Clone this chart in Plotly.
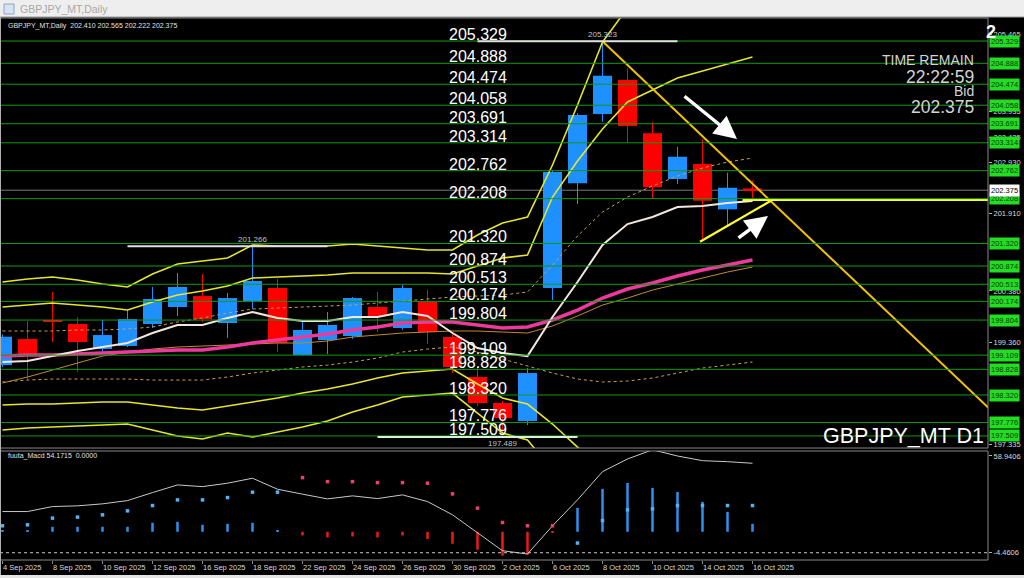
import plotly.graph_objects as go

# ---------------- data ----------------
dates = ["4 Sep 2025", "5 Sep 2025", "8 Sep 2025", "9 Sep 2025", "10 Sep 2025", "11 Sep 2025",
         "12 Sep 2025", "15 Sep 2025", "16 Sep 2025", "17 Sep 2025", "18 Sep 2025", "19 Sep 2025",
         "22 Sep 2025", "23 Sep 2025", "24 Sep 2025", "25 Sep 2025", "26 Sep 2025", "29 Sep 2025",
         "30 Sep 2025", "1 Oct 2025", "2 Oct 2025", "3 Oct 2025", "6 Oct 2025", "7 Oct 2025",
         "8 Oct 2025", "9 Oct 2025", "10 Oct 2025", "13 Oct 2025", "14 Oct 2025", "15 Oct 2025",
         "16 Oct 2025"]

opens = [198.913, 199.428, 199.800, 199.725, 199.230, 199.290, 199.725, 200.062, 200.279, 199.745,
         200.181, 200.438, 199.111, 199.408, 199.488, 200.062, 199.646, 200.161, 199.468, 198.676,
         198.161, 197.804, 200.438, 202.511, 203.883, 204.557, 203.501, 202.596, 202.893, 201.996,
         202.410]
highs = [199.520, 199.784, 200.359, 199.864, 199.805, 200.002, 200.458, 200.735, 200.715, 200.339,
         201.266, 200.616, 199.766, 199.963, 200.260, 200.359, 200.500, 200.398, 199.520, 198.874,
         198.200, 198.854, 202.760, 203.900, 205.323, 204.788, 203.731, 203.236, 203.383, 202.721,
         202.565]
lows = [198.870, 198.616, 199.369, 198.775, 199.171, 199.270, 199.646, 199.884, 199.770, 199.448,
        200.022, 199.171, 199.100, 199.131, 199.430, 199.567, 199.610, 199.329, 198.755, 198.100,
        197.489, 197.725, 200.200, 202.101, 203.731, 203.315, 202.214, 202.497, 201.355, 201.685,
        202.222]
closes = [199.474, 199.131, 199.770, 199.369, 199.507, 199.824, 200.220, 200.458, 199.824, 200.240,
          200.577, 199.349, 199.607, 199.707, 200.240, 199.884, 200.438, 199.567, 198.874, 198.161,
          197.864, 198.755, 202.735, 203.864, 204.642, 203.646, 202.432, 203.038, 202.167, 202.424,
          202.375]

ma_white = [198.973, 198.992, 199.091, 199.190, 199.270, 199.349, 199.547, 199.707, 199.707, 199.846,
            199.963, 199.846, 199.786, 199.786, 199.864, 199.864, 199.963, 199.884, 199.547, 199.250,
            199.151, 199.091, 199.864, 200.557, 201.290, 201.705, 201.844, 202.042, 202.062, 202.121,
            202.161]
ma_pink = [199.091, 199.111, 199.111, 199.131, 199.151, 199.171, 199.190, 199.210, 199.210, 199.270,
           199.349, 199.408, 199.468, 199.527, 199.607, 199.667, 199.746, 199.766, 199.766, 199.707,
           199.646, 199.667, 199.805, 200.002, 200.240, 200.418, 200.537, 200.676, 200.794, 200.894,
           200.993]
ma_tan = [198.557, 198.676, 198.814, 198.953, 199.091, 199.171, 199.230, 199.270, 199.290, 199.309,
          199.329, 199.349, 199.349, 199.389, 199.468, 199.508, 199.547, 199.567, 199.587, 199.587,
          199.567, 199.547, 199.687, 199.884, 200.101, 200.240, 200.398, 200.517, 200.636, 200.755,
          200.854]
env_up = [199.587, 199.587, 199.587, 199.607, 199.607, 199.627, 199.667, 199.766, 199.846, 199.943,
          200.022, 200.042, 200.062, 200.081, 200.101, 200.141, 200.181, 200.220, 200.260, 200.279,
          200.299, 200.359, 200.894, 201.468, 201.943, 202.240, 202.458, 202.656, 202.814, 202.933,
          203.012]
env_dn = [198.577, 198.616, 198.636, 198.636, 198.636, 198.636, 198.616, 198.616, 198.616, 198.676,
          198.755, 198.814, 198.874, 198.913, 198.973, 199.052, 199.171, 199.230, 199.270, 199.171,
          199.032, 198.893, 198.755, 198.636, 198.577, 198.597, 198.656, 198.755, 198.854, 198.913,
          198.973]
band_up3 = [200.557, 200.616, 200.656, 200.596, 200.517, 200.458, 200.715, 200.913, 200.973, 201.032,
            201.290, 201.270, 201.270, 201.270, 201.309, 201.270, 201.230, 201.191, 201.191, 201.488,
            201.725, 201.844, 202.874, 204.062, 205.309, 205.983, 206.340, 206.540, 206.640, 206.740,
            206.840]
band_up2 = [200.062, 200.101, 200.141, 200.101, 200.062, 200.002, 200.161, 200.299, 200.379, 200.478,
            200.636, 200.656, 200.676, 200.696, 200.735, 200.735, 200.735, 200.735, 200.715, 200.874,
            201.032, 201.091, 202.240, 202.953, 203.587, 204.121, 204.359, 204.596, 204.735, 204.874,
            205.012]
band_dn2 = [198.121, 198.141, 198.141, 198.161, 198.181, 198.181, 198.121, 198.062, 198.022, 198.101,
            198.181, 198.260, 198.359, 198.438, 198.537, 198.656, 198.755, 198.794, 198.834, 198.537,
            198.260, 198.141, 197.745, 197.289, 196.834, 196.537, 196.398, 196.299, 196.240, 196.200,
            196.161]
band_dn3 = [197.626, 197.666, 197.686, 197.706, 197.726, 197.745, 197.626, 197.507, 197.448, 197.567,
            197.488, 197.587, 197.686, 197.804, 197.983, 198.121, 198.280, 198.319, 198.359, 197.963,
            197.567, 197.428, 196.834, 196.141, 195.448, 195.052, 194.854, 194.755, 194.656, 194.616,
            194.557]

level_prices = [205.329, 204.888, 204.474, 204.058, 203.691, 203.314, 202.762, 202.208, 201.320,
                200.874, 200.513, 200.174, 199.804, 199.109, 198.828, 198.320, 197.776, 197.509]
bid_price = 202.375
swing_idx = [24, 10, 20]
swing_prices = [205.323, 201.266, 197.489]
axis_tick_prices = [205.465, 203.935, 203.425, 202.930, 201.910, 200.380, 199.360, 197.335]

down_trend_x = [24, 40]
down_trend_y = [205.323, 197.800]
up_trend_x = [27.9, 30.75]
up_trend_y = [201.355, 202.170]
flat_line_x = [29.6, 45]
flat_line_y = [202.181, 202.181]
arrow_down = (27.22, 204.260, 29.38, 203.389)
arrow_up = (29.38, 201.408, 30.62, 201.864)

macd_line = [22.53, 22.53, 25.80, 26.26, 27.57, 29.72, 34.95, 39.98, 38.87, 41.10, 44.36, 37.17,
             33.91, 30.83, 32.80, 31.03, 33.45, 29.07, 20.38, 8.42, -3.15, -5.31, 13.19, 30.18,
             48.68, 56.98, 63.00, 58.94, 55.87, 55.21, 54.17]
macd_dots = [13.19, 13.84, 18.22, 18.87, 20.38, 22.99, 26.46, 30.18, 30.18, 31.68, 35.21, 35.21,
             44.76, 42.14, 42.14, 41.49, 41.49, 41.10, 34.10, 24.76, 15.34, 13.19, 13.19, 1.88,
             16.65, 23.64, 24.30, 26.46, 26.46, 26.46, 26.46]
macd_hist = [9.92, 10.11, 12.53, 12.53, 12.53, 12.53, 15.15, 15.80, 13.84, 14.49, 15.15, 10.11,
             6.85, 5.54, 6.19, 5.54, 6.85, 4.49, 1.42, -2.50, -6.42, -5.77, 8.61, 24.95, 37.37,
             41.29, 38.02, 35.41, 28.87, 22.34, 14.49]
macd_hist_zero = 9.27
macd_level = -4.4606
macd_max = 58.9406

# ---------------- figure ----------------
W, H = 1024, 578
ML, MR, MT, MB = 0, 36, 18, 18
PW, PH = W - ML - MR, H - MT - MB


def py(y_px):
    return (H - MB - y_px) / PH


def px(x_px):
    return (x_px - ML) / PW


FONT = "Liberation Sans, Arial, sans-serif"
n = len(dates)
xs = list(range(n))

fig = go.Figure()

# candles
BLUE, RED = "#1E90FF", "#FF0000"
for up, col in [(True, BLUE), (False, RED)]:
    idx = [i for i in xs if (closes[i] >= opens[i]) == up]
    wx, wy = [], []
    for i in idx:
        wx += [i, i, None]
        wy += [lows[i], highs[i], None]
    fig.add_trace(go.Scatter(x=wx, y=wy, mode="lines", line=dict(color=col, width=1),
                             xaxis="x", yaxis="y", hoverinfo="skip"))
    fig.add_trace(go.Bar(x=idx, base=[min(opens[i], closes[i]) for i in idx],
                         y=[max(abs(closes[i] - opens[i]), 0.03) for i in idx],
                         width=0.76, marker=dict(color=col, line=dict(width=0)),
                         xaxis="x", yaxis="y", hoverinfo="skip"))


def line(y, color, width, dash="solid"):
    fig.add_trace(go.Scatter(x=xs, y=y, mode="lines", line=dict(color=color, width=width, dash=dash),
                             xaxis="x", yaxis="y", hoverinfo="skip"))


for b in (band_up3, band_up2, band_dn2, band_dn3):
    line(b, "#E6E62A", 1.6)
line(env_up, "#C8A050", 1, "dot")
line(env_dn, "#C8A050", 1, "dot")
line(ma_tan, "#C08A30", 1)
line(ma_pink, "#EC3A9C", 3.5)
line(ma_white, "#F2E6DE", 2)

# trendlines
fig.add_trace(go.Scatter(x=down_trend_x, y=down_trend_y, mode="lines",
                         line=dict(color="#F2C200", width=2), xaxis="x", yaxis="y", hoverinfo="skip"))
fig.add_trace(go.Scatter(x=up_trend_x, y=up_trend_y, mode="lines",
                         line=dict(color="#FFFF30", width=2.2), xaxis="x", yaxis="y", hoverinfo="skip"))
fig.add_trace(go.Scatter(x=flat_line_x, y=flat_line_y, mode="lines",
                         line=dict(color="#FFFF30", width=2), xaxis="x", yaxis="y", hoverinfo="skip"))

# MACD pane
hcol = ["#3090F0" if v >= macd_hist_zero else "#F01818" for v in macd_hist]
dcol = ["#58B0F0" if v >= macd_hist_zero else "#E8406A" for v in macd_hist]
fig.add_trace(go.Bar(x=xs, base=[macd_hist_zero] * n, y=[v - macd_hist_zero for v in macd_hist],
                     width=0.1, marker=dict(color=hcol, line=dict(width=0)),
                     xaxis="x2", yaxis="y2", hoverinfo="skip"))
fig.add_trace(go.Scatter(x=xs, y=macd_line, mode="lines", line=dict(color="#C8C8C8", width=1),
                         xaxis="x2", yaxis="y2", hoverinfo="skip"))
fig.add_trace(go.Scatter(x=xs, y=macd_dots, mode="markers",
                         marker=dict(color=dcol, size=3.5, symbol="square"),
                         xaxis="x2", yaxis="y2", hoverinfo="skip"))

shapes = []
annotations = []

# horizontal levels
for lv in level_prices:
    shapes.append(dict(type="line", xref="x domain", yref="y", x0=0, x1=1, y0=lv, y1=lv,
                       line=dict(color="#129A12", width=1), layer="above"))
    annotations.append(dict(x=17.78, y=lv, xref="x", yref="y", text=f"{lv:.3f}", showarrow=False,
                            xanchor="left", yanchor="bottom", yshift=-4,
                            font=dict(family=FONT, size=16, color="#FFFFFF")))
    annotations.append(dict(x=1, y=lv, xref="paper", yref="y", text=f"{lv:.3f}", showarrow=False,
                            xanchor="left", yanchor="middle", xshift=1, bgcolor="#22DD22",
                            borderpad=1, font=dict(family=FONT, size=7.5, color="#0A3A0A")))

# bid line
shapes.append(dict(type="line", xref="x domain", yref="y", x0=0, x1=1, y0=bid_price, y1=bid_price,
                   line=dict(color="#7A7A7A", width=1), layer="below"))
annotations.append(dict(x=1, y=bid_price, xref="paper", yref="y", text=f"{bid_price:.3f}",
                        showarrow=False, xanchor="left", yanchor="middle", xshift=1, bgcolor="#FFFFFF",
                        borderpad=1, font=dict(family=FONT, size=7.5, color="#000000")))

# swing high/low markers
for i, p in zip(swing_idx, swing_prices):
    low = p == min(swing_prices)
    shapes.append(dict(type="line", xref="x", yref="y", x0=i - 5, x1=i + 3, y0=p, y1=p,
                       line=dict(color="#D8F0D8" if low else "#E0E0E0", width=2), layer="above"))
    annotations.append(dict(x=i, y=p, xref="x", yref="y", text=f"{p:.3f}", showarrow=False,
                            xanchor="center", yanchor="top" if low else "bottom",
                            font=dict(family=FONT, size=8, color="#C0C0C0")))

# arrows
for ax, ay, x, y in (arrow_down, arrow_up):
    annotations.append(dict(x=x, y=y, ax=ax, ay=ay, xref="x", yref="y", axref="x", ayref="y",
                            text="", showarrow=True, arrowhead=2, arrowsize=1.3, arrowwidth=3.5,
                            arrowcolor="#FFFFFF", standoff=0))

# MACD dotted level
shapes.append(dict(type="line", xref="x2 domain", yref="y2", x0=0, x1=1, y0=macd_level, y1=macd_level,
                   line=dict(color="#C8C8C8", width=1, dash="dot")))

# pane borders
shapes.append(dict(type="rect", xref="x domain", yref="y domain", x0=0, x1=1, y0=0, y1=1,
                   line=dict(color="#8A8A8A", width=1)))
shapes.append(dict(type="rect", xref="x2 domain", yref="y2 domain", x0=0, x1=1, y0=0, y1=1,
                   line=dict(color="#8A8A8A", width=1)))

# window chrome
shapes.append(dict(type="rect", xref="paper", yref="paper", x0=-0.01, x1=px(W) + 0.01,
                   y0=py(17), y1=py(-2), fillcolor="#EEEEEE", line=dict(width=0)))
shapes.append(dict(type="line", xref="paper", yref="paper", x0=0, x1=px(W), y0=py(17), y1=py(17),
                   line=dict(color="#9A9A9A", width=1)))
shapes.append(dict(type="rect", xref="paper", yref="paper", x0=px(4), x1=px(14), y0=py(14), y1=py(4),
                   fillcolor="#D6E4F2", line=dict(color="#8AA6C8", width=1)))
shapes.append(dict(type="rect", xref="paper", yref="paper", x0=-0.01, x1=px(W) + 0.01,
                   y0=py(580), y1=py(575), fillcolor="#E4E4E4", line=dict(width=0)))
shapes.append(dict(type="line", xref="paper", yref="paper", x0=px(0.5), x1=px(0.5), y0=py(575),
                   y1=py(17), line=dict(color="#B0B0B0", width=1)))

annotations.append(dict(x=px(18), y=py(9), xref="paper", yref="paper", text="GBPJPY_MT,Daily",
                        showarrow=False, xanchor="left", yanchor="middle",
                        font=dict(family=FONT, size=10.5, color="#A8A8A8")))
annotations.append(dict(x=px(6), y=py(26), xref="paper", yref="paper",
                        text="GBPJPY_MT,Daily  202.410 202.565 202.222 202.375",
                        showarrow=False, xanchor="left", yanchor="middle",
                        font=dict(family=FONT, size=7, color="#E0E0E0")))
annotations.append(dict(x=px(6), y=py(456), xref="paper", yref="paper",
                        text="fuuta_Macd 54.1715  0.0000",
                        showarrow=False, xanchor="left", yanchor="middle",
                        font=dict(family=FONT, size=7, color="#E0E0E0")))
for txt, yy, sz in [("TIME REMAIN", 60, 14), ("22:22:59", 77, 17.5), ("Bid", 91, 14),
                    ("202.375", 107, 17.5)]:
    annotations.append(dict(x=px(976), y=py(yy), xref="paper", yref="paper", text=txt,
                            showarrow=False, xanchor="right", yanchor="middle",
                            font=dict(family=FONT, size=sz, color="#D4D4D4")))
annotations.append(dict(x=px(986), y=py(436), xref="paper", yref="paper", text="GBPJPY_MT D1",
                        showarrow=False, xanchor="right", yanchor="middle",
                        font=dict(family=FONT, size=21.5, color="#FFFFFF")))
annotations.append(dict(x=px(984), y=py(32), xref="paper", yref="paper", text="<b>2</b>",
                        showarrow=False, xanchor="left", yanchor="middle",
                        font=dict(family=FONT, size=18, color="#FFFFFF")))

main_lo, main_hi = 197.270, 205.785
macd_lo, macd_hi = -9.23, 62.21

fig.update_layout(
    width=W, height=H, margin=dict(l=ML, r=MR, t=MT, b=MB, autoexpand=False),
    paper_bgcolor="#000000", plot_bgcolor="#000000", showlegend=False, barmode="overlay",
    font=dict(family=FONT, color="#D8D8D8"),
    xaxis=dict(domain=[0, 1], range=[-0.1, 39.42], anchor="y", showticklabels=False,
               showgrid=False, zeroline=False, showline=False, ticks="", automargin=False),
    xaxis2=dict(domain=[0, 1], matches="x", anchor="y2", showgrid=False, zeroline=False,
                showline=False, tickmode="array", tickvals=xs[::2], ticktext=dates[::2],
                tickangle=0, automargin=False,
                ticks="outside", ticklen=3, tickcolor="#8A8A8A", ticklabelposition="outside right",
                tickfont=dict(family=FONT, size=7.5, color="#D8D8D8")),
    yaxis=dict(domain=[0.2066, 1], range=[main_lo, main_hi], side="right", automargin=False,
               anchor="x", showgrid=False, zeroline=False, showline=False, tickmode="array",
               tickvals=axis_tick_prices, ticktext=[f"{v:.3f}" for v in axis_tick_prices],
               ticks="outside", ticklen=3, tickcolor="#B0B0B0",
               tickfont=dict(family=FONT, size=7.5, color="#D8D8D8")),
    yaxis2=dict(domain=[0, 0.2011], range=[macd_lo, macd_hi], side="right", anchor="x2",
                automargin=False,
                showgrid=False, zeroline=False, showline=False, tickmode="array",
                tickvals=[macd_max, macd_level], ticktext=[f"{macd_max:.4f}", f"{macd_level:.4f}"],
                ticks="outside", ticklen=3, tickcolor="#B0B0B0",
                tickfont=dict(family=FONT, size=7.5, color="#D8D8D8")),
    shapes=shapes, annotations=annotations,
)

fig.write_html("out.html", config={"displayModeBar": False},
               post_script="document.body.style.margin='0';document.body.style.overflow='hidden';")
